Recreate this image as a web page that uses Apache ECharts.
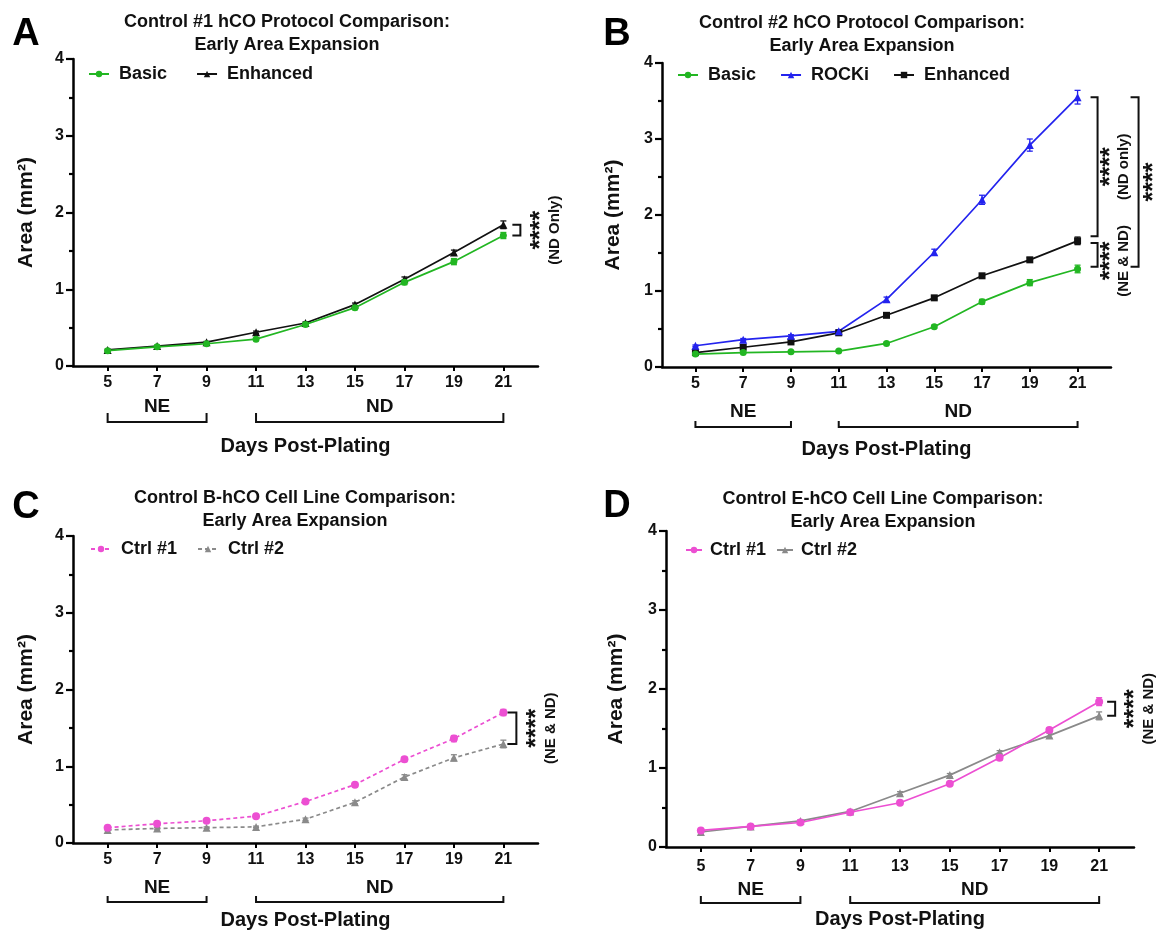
<!DOCTYPE html>
<html><head><meta charset="utf-8">
<script src="https://cdn.jsdelivr.net/npm/echarts@6/dist/echarts.min.js"></script>
<style>html,body{margin:0;padding:0;background:#fff}#c{width:1166px;height:932px}</style>
</head><body><div id="c"></div>
<script>
// ---------------- DATA ----------------
const days = [5, 7, 9, 11, 13, 15, 17, 19, 21];
const stageLabels = ['NE', 'ND'];
const stageFrom = [5, 11];
const stageTo = [9, 21];

const ctrl1Basic       = [0.20, 0.25, 0.29, 0.35, 0.54, 0.76, 1.09, 1.36, 1.70];
const ctrl1BasicErr    = [0.01, 0.01, 0.01, 0.015, 0.02, 0.025, 0.03, 0.04, 0.04];
const ctrl1Enhanced    = [0.21, 0.26, 0.31, 0.44, 0.56, 0.80, 1.13, 1.48, 1.84];
const ctrl1EnhancedErr = [0.01, 0.01, 0.01, 0.015, 0.015, 0.02, 0.03, 0.03, 0.05];
const ctrl2Basic       = [0.17, 0.19, 0.20, 0.21, 0.31, 0.53, 0.86, 1.11, 1.29];
const ctrl2BasicErr    = [0.01, 0.01, 0.01, 0.01, 0.015, 0.02, 0.03, 0.04, 0.05];
const ctrl2Rocki       = [0.28, 0.36, 0.41, 0.47, 0.89, 1.51, 2.20, 2.92, 3.55];
const ctrl2RockiErr    = [0.01, 0.015, 0.015, 0.02, 0.03, 0.04, 0.06, 0.08, 0.09];
const ctrl2Enhanced    = [0.19, 0.26, 0.33, 0.45, 0.68, 0.91, 1.20, 1.41, 1.66];
const ctrl2EnhancedErr = [0.01, 0.01, 0.015, 0.015, 0.02, 0.02, 0.02, 0.03, 0.05];

// ---------------- STYLE / LAYOUT ----------------
const FONT = '"Liberation Sans", Arial, Helvetica, sans-serif';
const TXT = '#111111';
const GREEN = '#22B622', BLACK = '#111111', BLUE = '#2323EE', PINK = '#EC4FD2', GRAY = '#8A8A8A';
const LAST = days[days.length - 1];

const panels = [
  { letter: 'A', lx: 26, ly: 35,
    title: 'Control #1 hCO Protocol Comparison:\nEarly Area Expansion', tx: 282, ty: 6,
    grid: { left: 73, top: 59, width: 465, height: 307 },
    legend: { left: 88, top: 65, itemGap: 29, pad: 5, iw: 20 },
    yNameGap: 36, xNameGap: 70, xLabelMargin: 9, stage: { text: 41, tickTop: 47, bottom: 56 },
    series: [
      { name: 'Enhanced', vals: ctrl1Enhanced, err: ctrl1EnhancedErr, color: BLACK, symbol: 'triangle', size: 8 },
      { name: 'Basic', vals: ctrl1Basic, err: ctrl1BasicErr, color: GREEN, symbol: 'circle', size: 7 }
    ],
    legendOrder: ['Basic', 'Enhanced'],
    sig: [{ top: ctrl1Enhanced[8], bot: ctrl1Basic[8], a0: 9, a1: 17, sx: 38, tx: 51, label: '(ND Only)' }]
  },
  { letter: 'B', lx: 617, ly: 35,
    title: 'Control #2 hCO Protocol Comparison:\nEarly Area Expansion', tx: 857, ty: 7,
    grid: { left: 662, top: 63, width: 449, height: 304 },
    legend: { left: 677, top: 66, itemGap: 24, pad: 5, iw: 20 },
    yNameGap: 38, xNameGap: 72, xLabelMargin: 9, stage: { text: 45, tickTop: 54, bottom: 60 },
    series: [
      { name: 'Enhanced', vals: ctrl2Enhanced, err: ctrl2EnhancedErr, color: BLACK, symbol: 'rect', size: 7 },
      { name: 'ROCKi', vals: ctrl2Rocki, err: ctrl2RockiErr, color: BLUE, symbol: 'triangle', size: 8 },
      { name: 'Basic', vals: ctrl2Basic, err: ctrl2BasicErr, color: GREEN, symbol: 'circle', size: 7 }
    ],
    legendOrder: ['Basic', 'ROCKi', 'Enhanced'],
    sig: [
      { top: ctrl2Rocki[8], bot: ctrl2Enhanced[8] + 0.06, a0: 13, a1: 20, sx: 34, tx: 46, label: '(ND only)' },
      { top: ctrl2Enhanced[8] - 0.03, bot: ctrl2Basic[8] + 0.03, a0: 13, a1: 20, sx: 34, tx: 46, label: '(NE & ND)', dy: 6 },
      { top: ctrl2Rocki[8], bot: ctrl2Basic[8] + 0.03, a0: 53, a1: 61, sx: 77, tx: null, label: null }
    ]
  },
  { letter: 'C', lx: 26, ly: 508,
    title: 'Control B-hCO Cell Line Comparison:\nEarly Area Expansion', tx: 290, ty: 482,
    grid: { left: 73, top: 536, width: 465, height: 307 },
    legend: { left: 90, top: 540, itemGap: 20, pad: 5, iw: 20 },
    yNameGap: 36, xNameGap: 67, xLabelMargin: 9, stage: { text: 45, tickTop: 53, bottom: 59 },
    series: [
      { name: 'Ctrl #2', vals: ctrl2Basic, err: ctrl2BasicErr, color: GRAY, symbol: 'triangle', size: 8, dashed: true },
      { name: 'Ctrl #1', vals: ctrl1Basic, err: ctrl1BasicErr, color: PINK, symbol: 'circle', size: 8, dashed: true }
    ],
    legendOrder: ['Ctrl #1', 'Ctrl #2'],
    sig: [{ top: ctrl1Basic[8], bot: ctrl2Basic[8], a0: 4, a1: 13, sx: 34, tx: 47, label: '(NE & ND)' }]
  },
  { letter: 'D', lx: 617, ly: 507,
    title: 'Control E-hCO Cell Line Comparison:\nEarly Area Expansion', tx: 878, ty: 483,
    grid: { left: 666, top: 531, width: 468, height: 316 },
    legend: { left: 685, top: 541, itemGap: 10, pad: 3, iw: 16 },
    yNameGap: 39, xNameGap: 62, xLabelMargin: 12, stage: { text: 43, tickTop: 49, bottom: 56 },
    series: [
      { name: 'Ctrl #2', vals: ctrl2Enhanced, err: ctrl2EnhancedErr, color: GRAY, symbol: 'triangle', size: 8 },
      { name: 'Ctrl #1', vals: ctrl1Enhanced, err: ctrl1EnhancedErr, color: PINK, symbol: 'circle', size: 8 }
    ],
    legendOrder: ['Ctrl #1', 'Ctrl #2'],
    sig: [{ top: ctrl1Enhanced[8], bot: ctrl2Enhanced[8], a0: 8, a1: 16, sx: 36, tx: 50, label: '(NE & ND)' }]
  }
];

// ---------------- BUILD ----------------
const grids = [], xAxes = [], yAxes = [], series = [], legends = [], titles = [], graphics = [];

function errRender(color) {
  return function (params, api) {
    const x = api.value(0), v = api.value(1), e = api.value(2);
    const t = api.coord([x, v + e]), b = api.coord([x, v - e]);
    const w = 3, st = { stroke: color, lineWidth: 1.3 };
    return { type: 'group', children: [
      { type: 'line', shape: { x1: t[0], y1: t[1], x2: b[0], y2: b[1] }, style: st },
      { type: 'line', shape: { x1: t[0] - w, y1: t[1], x2: t[0] + w, y2: t[1] }, style: st },
      { type: 'line', shape: { x1: b[0] - w, y1: b[1], x2: b[0] + w, y2: b[1] }, style: st }
    ]};
  };
}

function stageRender(o) {
  return function (params, api) {
    const p0 = api.coord([api.value(0), 0]);
    const p1 = api.coord([api.value(1), 0]);
    const y0 = p0[1];
    return { type: 'group', children: [
      { type: 'polyline', shape: { points: [[p0[0], y0 + o.tickTop], [p0[0], y0 + o.bottom], [p1[0], y0 + o.bottom], [p1[0], y0 + o.tickTop]] },
        style: { stroke: TXT, lineWidth: 2, fill: null } },
      { type: 'text', x: (p0[0] + p1[0]) / 2, y: y0 + o.text,
        style: { text: stageLabels[params.dataIndex], font: 'bold 19px ' + FONT, fill: TXT, align: 'center', verticalAlign: 'middle' } }
    ]};
  };
}

function sigRender(specs) {
  return function (params, api) {
    const s = specs[params.dataIndex];
    const pt = api.coord([api.value(0), api.value(1)]);
    const pb = api.coord([api.value(0), api.value(2)]);
    const x = pt[0];
    const cy = (pt[1] + pb[1]) / 2 + (s.dy || 0);
    const ch = [
      { type: 'polyline', shape: { points: [[x + s.a0, pt[1]], [x + s.a1, pt[1]], [x + s.a1, pb[1]], [x + s.a0, pb[1]]] },
        style: { stroke: TXT, lineWidth: 2, fill: null } },
      { type: 'text', x: x + s.sx, y: cy, rotation: Math.PI / 2,
        style: { text: '****', font: 'bold 25px ' + FONT, fill: TXT, align: 'center', verticalAlign: 'middle' } }
    ];
    if (s.label) ch.push({ type: 'text', x: x + s.tx, y: cy, rotation: Math.PI / 2,
        style: { text: s.label, font: 'bold 15px ' + FONT, fill: TXT, align: 'center', verticalAlign: 'middle' } });
    return { type: 'group', children: ch };
  };
}

panels.forEach((p, i) => {
  grids.push(Object.assign({ containLabel: false, outerBoundsMode: 'none' }, p.grid));
  xAxes.push({
    gridIndex: i, type: 'value', min: 3.6, max: 22.4,
    axisLine: { show: true, onZero: false, lineStyle: { color: '#000', width: 2.5 } },
    axisTick: { show: true, length: 5, customValues: days, lineStyle: { color: '#000', width: 2 } },
    axisLabel: { customValues: days, margin: p.xLabelMargin, color: TXT, fontSize: 16, fontWeight: 'bold', fontFamily: FONT },
    splitLine: { show: false },
    name: 'Days Post-Plating', nameLocation: 'middle', nameGap: p.xNameGap,
    nameTextStyle: { color: TXT, fontSize: 20, fontWeight: 'bold', fontFamily: FONT }
  });
  yAxes.push({
    gridIndex: i, type: 'value', min: 0, max: 4, interval: 1,
    axisLine: { show: true, onZero: false, lineStyle: { color: '#000', width: 2.5 } },
    axisTick: { show: true, length: 7, lineStyle: { color: '#000', width: 2.2 } },
    minorTick: { show: true, splitNumber: 2, length: 4, lineStyle: { color: '#000', width: 2.2 } },
    axisLabel: { margin: 9, color: TXT, fontSize: 16, fontWeight: 'bold', fontFamily: FONT },
    splitLine: { show: false }, minorSplitLine: { show: false },
    name: 'Area (mm²)', nameLocation: 'middle', nameGap: p.yNameGap,
    nameTextStyle: { color: TXT, fontSize: 21, fontWeight: 'bold', fontFamily: FONT }
  });
  p.series.forEach(s => {
    const nm = p.letter + '|' + s.name;
    series.push({
      type: 'custom', xAxisIndex: i, yAxisIndex: i, clip: false, silent: true, z: 3,
      data: days.map((d, k) => [d, s.vals[k], s.err[k]]), encode: { x: 0, y: 1 },
      renderItem: errRender(s.color)
    });
    series.push({
      type: 'line', name: nm, xAxisIndex: i, yAxisIndex: i, z: 4,
      data: days.map((d, k) => [d, s.vals[k]]),
      symbol: s.symbol, symbolSize: s.size, showSymbol: true,
      lineStyle: { color: s.color, width: 1.7, type: s.dashed ? [4, 3] : 'solid' },
      itemStyle: { color: s.color, borderWidth: 0 },
      emphasis: { disabled: true }
    });
  });
  series.push({
    type: 'custom', xAxisIndex: i, yAxisIndex: i, clip: false, silent: true,
    data: stageFrom.map((f, k) => [f, stageTo[k], 0]), encode: { x: [0, 1], y: 2 },
    renderItem: stageRender(p.stage)
  });
  series.push({
    type: 'custom', xAxisIndex: i, yAxisIndex: i, clip: false, silent: true,
    data: p.sig.map(s => [LAST, s.top, s.bot]), encode: { x: 0, y: [1, 2] },
    renderItem: sigRender(p.sig)
  });
  legends.push({
    left: p.legend.left, top: p.legend.top, itemGap: p.legend.itemGap, orient: 'horizontal', padding: 0,
    itemWidth: p.legend.iw, itemHeight: 8, selectedMode: false,
    data: p.legendOrder.map(n => p.letter + '|' + n),
    formatter: n => n.split('|')[1],
    textStyle: { color: TXT, fontSize: 18, fontWeight: 'bold', fontFamily: FONT, padding: [0, 0, 0, p.legend.pad] }
  });
  titles.push({
    text: p.title, left: p.tx, top: p.ty, textAlign: 'center',
    textStyle: { color: TXT, fontSize: 18, fontWeight: 'bold', fontFamily: FONT, lineHeight: 23 }
  });
  graphics.push({
    type: 'text', x: p.lx, y: p.ly,
    style: { text: p.letter, font: 'bold 38px ' + FONT, fill: '#000', align: 'center', verticalAlign: 'middle' }
  });
});

const chart = echarts.init(document.getElementById('c'), null, { renderer: 'canvas' });
chart.setOption({
  backgroundColor: '#fff', animation: false,
  title: titles, legend: legends, grid: grids, xAxis: xAxes, yAxis: yAxes,
  series: series, graphic: graphics
});
</script></body></html>
